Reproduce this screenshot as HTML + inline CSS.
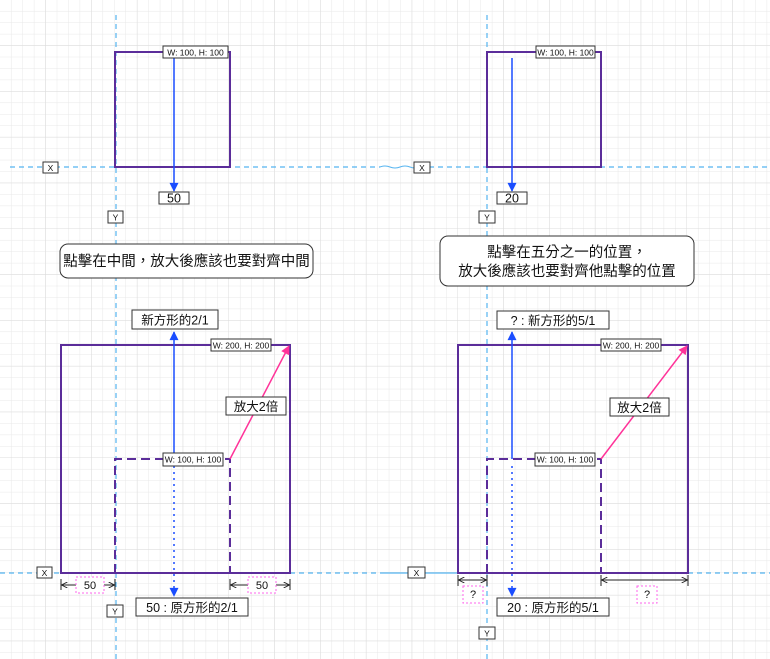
<!DOCTYPE html>
<html><head><meta charset="utf-8"><style>
html,body{margin:0;padding:0;background:#fff;}
svg{display:block;font-family:"Liberation Sans","Noto Sans CJK TC",sans-serif;}
</style></head><body>
<svg width="770" height="659" viewBox="0 0 770 659" xmlns="http://www.w3.org/2000/svg">
<defs>
<pattern id="g" width="11.45" height="11.45" patternUnits="userSpaceOnUse" x="0" y="0">
<path d="M11.45 0V11.45M0 11.45H11.45" stroke="#e8e8e8" stroke-width="1" fill="none"/>
</pattern>
<pattern id="G" width="45.8" height="45.8" patternUnits="userSpaceOnUse" x="0" y="0">
<path d="M45.8 0V45.8M0 45.8H45.8" stroke="#dcdcdc" stroke-width="1" fill="none"/>
</pattern>
<marker id="ab" viewBox="0 0 10 10" refX="9" refY="5" markerWidth="7" markerHeight="6" orient="auto"><path d="M0 0L10 5L0 10z" fill="#1a4dff"/></marker>
<marker id="ap" viewBox="0 0 10 10" refX="9" refY="5" markerWidth="6.5" markerHeight="6" orient="auto"><path d="M0 0L10 5L0 10z" fill="#ff3399"/></marker>
<marker id="ak" viewBox="0 0 10 10" refX="9" refY="5" markerWidth="6" markerHeight="6" orient="auto"><path d="M0 0L10 5L0 10M0 5H10" stroke="#222" fill="none" stroke-width="1.5"/></marker>
</defs>
<rect width="770" height="659" fill="url(#g)"/>
<rect width="770" height="659" fill="url(#G)"/>

<g stroke="#55b4f0" stroke-width="1.2" stroke-dasharray="5,4" fill="none">
<path d="M10 167H380M420 167H770"/>
<path d="M116 15V659M487 15V659"/>
<path d="M0 573H120M290 573H380M688 573H770"/>
</g>
<path d="M380 573H458" stroke="#55b4f0" stroke-width="1.2"/>
<path d="M380 167q5 -2 10 0t10 0t10 0t10 0" stroke="#55b4f0" fill="none"/>

<g fill="none" stroke="#5b2d9a" stroke-width="2">
<rect x="115" y="52" width="115" height="115"/>
<rect x="487" y="52" width="114" height="115"/>
<rect x="61" y="345" width="229" height="228"/>
<rect x="458" y="345" width="230" height="228"/>
<path d="M115 573V459H230V573M487 573V459H601V573" stroke-dasharray="9,5"/>
</g>

<g stroke="#1a4dff" stroke-width="1.5" fill="none">
<path d="M174 58V191" marker-end="url(#ab)"/>
<path d="M512 58V191" marker-end="url(#ab)"/>
<path d="M174 459V332" marker-end="url(#ab)"/>
<path d="M512 459V332" marker-end="url(#ab)"/>
<path d="M174 466V596" stroke-dasharray="2,4" marker-end="url(#ab)"/>
<path d="M512 466V596" stroke-dasharray="2,4" marker-end="url(#ab)"/>
</g>
<g stroke="#ff3399" stroke-width="1.5" fill="none">
<path d="M230 459L289 346" marker-end="url(#ap)"/>
<path d="M601 459L687 346" marker-end="url(#ap)"/>
</g>

<g stroke="#222" stroke-width="1" fill="none">
<path d="M61 579V590M115 579V590M230 579V590M290 579V590M458 575V586M487 575V586M601 575V586M688 575V586"/>
<path d="M62 585H114" marker-end="url(#ak)"/>
<path d="M114 585H62" marker-end="url(#ak)"/>
<path d="M231 585H289" marker-end="url(#ak)"/>
<path d="M289 585H231" marker-end="url(#ak)"/>
<path d="M459 580H486" marker-end="url(#ak)"/>
<path d="M486 580H459" marker-end="url(#ak)"/>
<path d="M602 580H687" marker-end="url(#ak)"/>
<path d="M687 580H602" marker-end="url(#ak)"/>
</g>
<g stroke="#ff66ee" stroke-width="1" stroke-dasharray="2,2" fill="#fff">
<rect x="76" y="577" width="28" height="16"/>
<rect x="248" y="577" width="28" height="16"/>
<rect x="463" y="586" width="20" height="17"/>
<rect x="637" y="586" width="20" height="17"/>
</g>

<g stroke="#333" stroke-width="1" fill="#fff">
<rect x="163" y="46" width="65" height="12"/>
<rect x="536" y="46" width="59" height="12"/>
<rect x="159" y="192" width="30" height="12"/>
<rect x="497" y="192" width="30" height="12"/>
<rect x="43" y="162" width="15" height="11"/>
<rect x="414" y="162" width="16" height="11"/>
<rect x="108" y="211" width="15" height="12"/>
<rect x="479" y="211" width="16" height="12"/>
<rect x="60" y="244" width="253" height="34" rx="8"/>
<rect x="440" y="236" width="254" height="50" rx="8"/>
<rect x="132" y="310" width="86" height="19"/>
<rect x="497" y="311" width="112" height="18"/>
<rect x="211" y="339" width="60" height="12"/>
<rect x="601" y="339" width="60" height="12"/>
<rect x="226" y="397" width="60" height="18"/>
<rect x="610" y="398" width="59" height="18"/>
<rect x="163" y="453" width="60" height="13"/>
<rect x="535" y="453" width="60" height="13"/>
<rect x="136" y="598" width="112" height="18"/>
<rect x="497" y="598" width="112" height="18"/>
<rect x="37" y="567" width="15" height="11"/>
<rect x="408" y="567" width="17" height="11"/>
<rect x="107" y="605" width="16" height="12"/>
<rect x="479" y="627" width="16" height="12"/>
</g>

<g fill="#111" text-anchor="middle">
<g font-size="8.5">
<text x="195.5" y="55.5">W: 100, H: 100</text>
<text x="565.5" y="55.5">W: 100, H: 100</text>
<text x="241" y="348.5">W: 200, H: 200</text>
<text x="631" y="348.5">W: 200, H: 200</text>
<text x="193" y="462.5">W: 100, H: 100</text>
<text x="565" y="462.5">W: 100, H: 100</text>
<text x="50.5" y="171">X</text>
<text x="422" y="171">X</text>
<text x="44.5" y="576">X</text>
<text x="416.5" y="576">X</text>
<text x="115.5" y="220.5">Y</text>
<text x="487" y="220.5">Y</text>
<text x="115" y="614.5">Y</text>
<text x="487" y="636.5">Y</text>
</g>
<g font-size="12.5">
<text x="174" y="202.5">50</text>
<text x="512" y="202.5">20</text>
<text x="175" y="324.5">新方形的2/1</text>
<text x="553" y="325">? : 新方形的5/1</text>
<text x="256" y="411">放大2倍</text>
<text x="639.5" y="412">放大2倍</text>
<text x="192" y="612">50 : 原方形的2/1</text>
<text x="553" y="612">20 : 原方形的5/1</text>
</g>
<g font-size="11">
<text x="90" y="589">50</text>
<text x="262" y="589">50</text>
<text x="473" y="598">?</text>
<text x="647" y="598">?</text>
</g>
<g font-size="14.5">
<text x="186.5" y="266">點擊在中間，放大後應該也要對齊中間</text>
<text x="567" y="257">點擊在五分之一的位置，</text>
<text x="567" y="276">放大後應該也要對齊他點擊的位置</text>
</g>
</g>
</svg>
</body></html>
